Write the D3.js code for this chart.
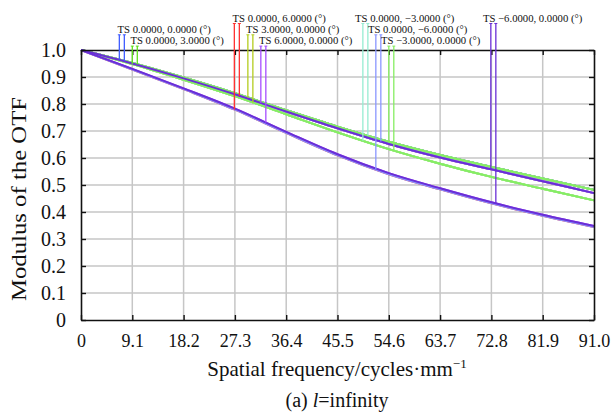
<!DOCTYPE html>
<html>
<head>
<meta charset="utf-8">
<script src="https://cdn.jsdelivr.net/npm/d3@7"></script>
<style>
  body { margin: 0; background: #fff; }
  svg { display: block; font-family: "Liberation Serif", "Times New Roman", serif; }
</style>
</head>
<body>
<svg id="chart" width="613" height="413"></svg>
<script>
// spatial frequency samples (cycles/mm)
const freq = [0, 9.1, 18.2, 27.3, 36.4, 45.5, 54.6, 63.7, 72.8, 81.9, 91.0];
const xTickLabels = ["0", "9.1", "18.2", "27.3", "36.4", "45.5", "54.6", "63.7", "72.8", "81.9", "91.0"];
const yTicks = [0, 0.1, 0.2, 0.3, 0.4, 0.5, 0.6, 0.7, 0.8, 0.9, 1.0];
const yTickLabels = ["0", "0.1", "0.2", "0.3", "0.4", "0.5", "0.6", "0.7", "0.8", "0.9", "1.0"];

// MTF curves
const onAxis   = [1, 0.952, 0.898, 0.840, 0.777, 0.716, 0.660, 0.611, 0.567, 0.524, 0.482];
const azim3    = [1, 0.952, 0.898, 0.840, 0.777, 0.716, 0.660, 0.611, 0.567, 0.524, 0.482];
const radial3  = [1, 0.948, 0.890, 0.829, 0.762, 0.695, 0.633, 0.579, 0.530, 0.486, 0.443];
const azim6    = [1, 0.950, 0.895, 0.836, 0.772, 0.710, 0.652, 0.602, 0.558, 0.514, 0.470];
const radial6  = [1, 0.930, 0.858, 0.783, 0.697, 0.614, 0.544, 0.488, 0.436, 0.390, 0.348];
const radial6y = [1, 0.928, 0.855, 0.779, 0.693, 0.610, 0.540, 0.484, 0.432, 0.386, 0.344];

// fields, in drawing order
const fieldLabels = [
  "TS 0.0000, 0.0000 (°)", "TS 0.0000, 3.0000 (°)", "TS 0.0000, 6.0000 (°)",
  "TS 3.0000, 0.0000 (°)", "TS 6.0000, 0.0000 (°)", "TS 0.0000, \u22123.0000 (°)",
  "TS 0.0000, \u22126.0000 (°)", "TS \u22123.0000, 0.0000 (°)", "TS \u22126.0000, 0.0000 (°)"
];
const fieldColors = ["#3f5cff", "#5fe01c", "#ff3030", "#b4cc1e", "#a64dff", "#96ecd2", "#8a96ff", "#86ee62", "#6a2fd6"];
const fieldT = [onAxis, radial3, radial6y, azim3, azim6, radial3, radial6y, azim3, azim6];
const fieldS = [onAxis, azim3, azim6, radial3, radial6, azim3, azim6, radial3, radial6];
// frequency where each label's marker lines sit
const markerFreq = [6.8, 9.1, 27.2, 29.6, 31.9, 50.0, 52.3, 54.6, 72.7];

const svg = d3.select("#chart");
const pLeft = 81, pRight = 594, pTop = 50, pBottom = 320;

const x = d3.scaleLinear().domain([0, 91]).range([pLeft, pRight]);
const y = d3.scaleLinear().domain([0, 1]).range([pBottom, pTop]);

// grid
const grid = svg.append("g").attr("stroke", "#c6c6c6").attr("stroke-width", 1.5);
grid.selectAll("line.v").data(freq.slice(1, -1)).enter().append("line")
  .attr("x1", d => x(d)).attr("x2", d => x(d)).attr("y1", pTop).attr("y2", pBottom);
grid.selectAll("line.h").data(yTicks.slice(1, -1)).enter().append("line")
  .attr("x1", pLeft).attr("x2", pRight).attr("y1", d => y(d)).attr("y2", d => y(d));

// curves
const line = d3.line()
  .x((d, i) => x(freq[i]))
  .y(d => y(d))
  .curve(d3.curveMonotoneX);

fieldLabels.forEach(function(lbl, i) {
  [fieldT[i], fieldS[i]].forEach(function(vals) {
    svg.append("path").datum(vals)
      .attr("d", line)
      .attr("fill", "none")
      .attr("stroke", fieldColors[i])
      .attr("stroke-width", 2);
  });
});

// frame + inward ticks
function styleAxis(g, fs) {
  g.select(".domain").attr("stroke", "#111").attr("stroke-width", 1.6);
  g.selectAll(".tick line").attr("stroke", "#111").attr("stroke-width", 1.4);
  g.selectAll(".tick text").attr("fill", "#111").attr("font-size", fs)
    .attr("font-family", "'Liberation Serif', 'Times New Roman', serif");
}

svg.append("g").attr("transform", `translate(0,${pBottom})`)
  .call(d3.axisBottom(x).tickValues(freq).tickSizeInner(-5).tickSizeOuter(0).tickPadding(14)
    .tickFormat((d, i) => xTickLabels[i]))
  .call(styleAxis, 18);
svg.append("g").attr("transform", `translate(0,${pTop})`)
  .call(d3.axisTop(x).tickValues(freq).tickSizeInner(-5).tickSizeOuter(0).tickFormat(""))
  .call(styleAxis, 18);
svg.append("g").attr("transform", `translate(${pLeft},0)`)
  .call(d3.axisLeft(y).tickValues(yTicks).tickSizeInner(-5).tickSizeOuter(0).tickPadding(15)
    .tickFormat((d, i) => yTickLabels[i]))
  .call(styleAxis, 20);
svg.append("g").attr("transform", `translate(${pRight},0)`)
  .call(d3.axisRight(y).tickValues(yTicks).tickSizeInner(-5).tickSizeOuter(0).tickFormat(""))
  .call(styleAxis, 18);

// field labels with their T / S marker lines
const interp = arr => d3.scaleLinear().domain(freq).range(arr);
fieldLabels.forEach(function(lbl, i) {
  const row = (i + 1) % 3;
  const base = 21.5 + row * 11.3;
  const x0 = x(markerFreq[i]);
  [fieldT[i], fieldS[i]].forEach(function(vals, k) {
    const xx = x0 + k * 5;
    const yEnd = y(interp(vals)(x.invert(xx)));
    svg.append("line")
      .attr("x1", xx).attr("x2", xx).attr("y1", base + 2).attr("y2", yEnd)
      .attr("stroke", fieldColors[i]).attr("stroke-width", 1.3);
    svg.append("line")
      .attr("x1", xx - 1.5).attr("x2", xx + 1.5).attr("y1", base + 2).attr("y2", base + 2)
      .attr("stroke", fieldColors[i]).attr("stroke-width", 1);
  });
  svg.append("text")
    .attr("x", x0 + 91.5).attr("y", base)
    .attr("text-anchor", "end")
    .attr("font-size", 10.7)
    .attr("fill", "#111")
    .text(lbl);
});

// axis titles
svg.append("text")
  .attr("transform", "translate(26,199) rotate(-90)")
  .attr("text-anchor", "middle")
  .attr("font-size", 22)
  .attr("textLength", 204).attr("lengthAdjust", "spacingAndGlyphs")
  .attr("fill", "#111")
  .text("Modulus of the OTF");

const xt = svg.append("text")
  .attr("x", 337).attr("y", 376)
  .attr("text-anchor", "middle")
  .attr("font-size", 21)
  .attr("fill", "#111");
xt.append("tspan").text("Spatial frequency/cycles\u00b7mm");
xt.append("tspan").attr("dy", -8).attr("font-size", 13).text("\u22121");

const cap = svg.append("text")
  .attr("x", 337).attr("y", 407)
  .attr("text-anchor", "middle")
  .attr("font-size", 20)
  .attr("fill", "#111");
cap.append("tspan").text("(a) ");
cap.append("tspan").attr("font-style", "italic").text("l");
cap.append("tspan").text("=infinity");
</script>
</body>
</html>
